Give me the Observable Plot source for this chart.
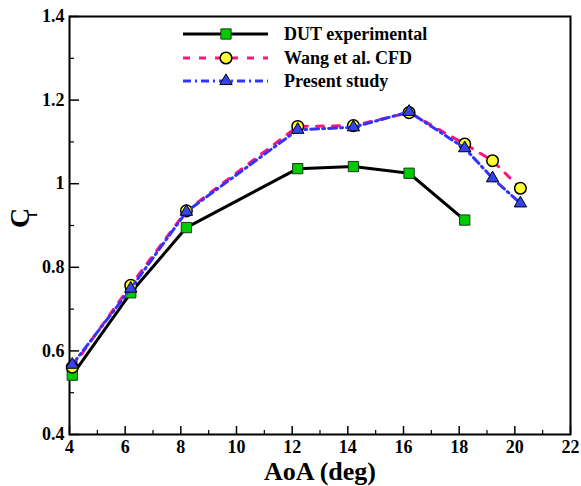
<!DOCTYPE html>
<html><head><meta charset="utf-8">
<script src="https://cdn.jsdelivr.net/npm/d3@7"></script>
<script src="https://cdn.jsdelivr.net/npm/@observablehq/plot@0.6"></script>
<style>body{margin:0;background:#fff}</style>
</head><body><div id="chart"></div>
<script>
// ---- data ----
const aoaDUT = [4.1, 6.2, 8.2, 12.2, 14.2, 16.2, 18.2];
const clDUT = [0.542, 0.739, 0.895, 1.036, 1.041, 1.025, 0.913];
const aoaCFD = [4.1, 6.2, 8.2, 12.2, 14.2, 16.2, 18.2, 19.2, 20.2];
const clWang = [0.561, 0.757, 0.935, 1.137, 1.139, 1.170, 1.095, 1.055, 0.989];
const clPresent = [0.567, 0.749, 0.933, 1.129, 1.135, 1.172, 1.085, 1.013, 0.953];
const seriesNames = ["DUT experimental", "Wang et al. CFD", "Present study"];
const xTicks = [4, 6, 8, 10, 12, 14, 16, 18, 20, 22];
const xMinor = [5, 7, 9, 11, 13, 15, 17, 19, 21];
const yTicks = [0.4, 0.6, 0.8, 1, 1.2, 1.4];
const yTickLabels = ["0.4", "0.6", "0.8", "1", "1.2", "1.4"];
const yMinor = [0.5, 0.7, 0.9, 1.1, 1.3];
const xLabel = "AoA (deg)";
const yLabelMain = "C";
const yLabelSub = "l";

const dut = aoaDUT.map((a, i) => ({aoa: a, cl: clDUT[i]}));
const wang = aoaCFD.map((a, i) => ({aoa: a, cl: clWang[i]}));
const present = aoaCFD.map((a, i) => ({aoa: a, cl: clPresent[i]}));
const yTickTable = yTicks.map((v, i) => ({v, label: yTickLabels[i]}));

const W = 581, H = 486, mL = 69, mR = 11, mT = 16, mB = 52;
const fw = W - mL - mR, fh = H - mT - mB;
const FONT = "'Liberation Serif', 'Times New Roman', serif";

const colDUT = "#000000", fillDUT = "#00cc00";
const colWang = "#ff1577", fillWang = "#ffff33";
const colPres = "#3333ff", fillPres = "#3344ee";

const chart = Plot.plot({
  width: W, height: H,
  marginLeft: mL, marginRight: mR, marginTop: mT, marginBottom: mB,
  style: {fontFamily: FONT, fontWeight: "bold", color: "black", background: "white"},
  x: {domain: [4, 22], axis: null},
  y: {domain: [0.4, 1.4], axis: null},
  marks: [
    // tick labels
    Plot.text(xTicks, {x: d => d, frameAnchor: "bottom", dy: 13, text: d => String(d), fontSize: 18, fontWeight: "bold", fill: "black", lineAnchor: "middle"}),
    Plot.text(yTickTable, {y: "v", text: "label", frameAnchor: "left", dx: -5, textAnchor: "end", fontSize: 18, fontWeight: "bold", fill: "black", lineAnchor: "middle"}),
    // tick marks (inward)
    Plot.tickX(xTicks, {x: d => d, insetTop: fh - 8, stroke: "black", strokeWidth: 1.5}),
    Plot.tickX(xMinor, {x: d => d, insetTop: fh - 4, stroke: "black", strokeWidth: 1.2}),
    Plot.tickY(yTicks, {y: d => d, insetRight: fw - 10, stroke: "black", strokeWidth: 1.5}),
    Plot.tickY(yMinor, {y: d => d, insetRight: fw - 5, stroke: "black", strokeWidth: 1.2}),
    Plot.frame({stroke: "black", strokeWidth: 2}),
    // DUT experimental
    Plot.line(dut, {x: "aoa", y: "cl", stroke: colDUT, strokeWidth: 3}),
    Plot.dot(dut, {x: "aoa", y: "cl", symbol: "square", r: 5.8, fill: fillDUT, stroke: "#1a3a1a", strokeWidth: 1}),
    // Wang et al. CFD
    Plot.line(wang, {x: "aoa", y: "cl", stroke: colWang, strokeWidth: 3, strokeDasharray: "7,9"}),
    Plot.dot(wang, {x: "aoa", y: "cl", symbol: "circle", r: 5.8, fill: fillWang, stroke: "black", strokeWidth: 1.5}),
    // Present study
    Plot.line(present, {x: "aoa", y: "cl", stroke: colPres, strokeWidth: 3, strokeDasharray: "8,4,2,4"}),
    Plot.dot(present, {x: "aoa", y: "cl", symbol: "triangle", r: 4.6, fill: fillPres, stroke: "black", strokeWidth: 1}),
    // axis titles
    Plot.text([xLabel], {frameAnchor: "bottom", dy: 37, fontSize: 26, fontWeight: "bold", lineAnchor: "middle", fill: "black"}),
    Plot.text([yLabelMain], {frameAnchor: "left", rotate: -90, dx: -49, dy: 2.5, fontSize: 28, fontWeight: "bold", lineAnchor: "middle", fill: "black"}),
    Plot.text([yLabelSub], {frameAnchor: "left", rotate: -90, dx: -36, dy: -9, fontSize: 12, fontWeight: "bold", lineAnchor: "middle", fill: "black"})
  ]
});

// ---- legend inside the plot area ----
const svg = d3.select(chart);
const lg = svg.append("g").attr("font-family", FONT).attr("font-weight", "bold").attr("font-size", 18).attr("text-anchor", "start");
const rows = [
  {name: seriesNames[0], stroke: colDUT, dash: null, fill: fillDUT, sym: d3.symbolSquare, size: Math.PI * 5.8 * 5.8, sstroke: "#1a3a1a", sw: 1},
  {name: seriesNames[1], stroke: colWang, dash: "7,9", fill: fillWang, sym: d3.symbolCircle, size: Math.PI * 5.8 * 5.8, sstroke: "black", sw: 1.5},
  {name: seriesNames[2], stroke: colPres, dash: "8,4,2,4", fill: fillPres, sym: d3.symbolTriangle, size: Math.PI * 4.6 * 4.6, sstroke: "black", sw: 1}
];
const rowY = [34, 58, 81];
rows.forEach((r, i) => {
  const y = rowY[i];
  lg.append("line").attr("x1", 183).attr("x2", 268).attr("y1", y).attr("y2", y)
    .attr("stroke", r.stroke).attr("stroke-width", 3).attr("stroke-dasharray", r.dash);
  lg.append("path").attr("d", d3.symbol(r.sym, r.size)()).attr("transform", `translate(226,${y})`)
    .attr("fill", r.fill).attr("stroke", r.sstroke).attr("stroke-width", r.sw);
  lg.append("text").attr("x", 284).attr("y", y + 6).attr("fill", "black").text(r.name);
});

document.getElementById("chart").appendChild(chart);
</script>
</body></html>
